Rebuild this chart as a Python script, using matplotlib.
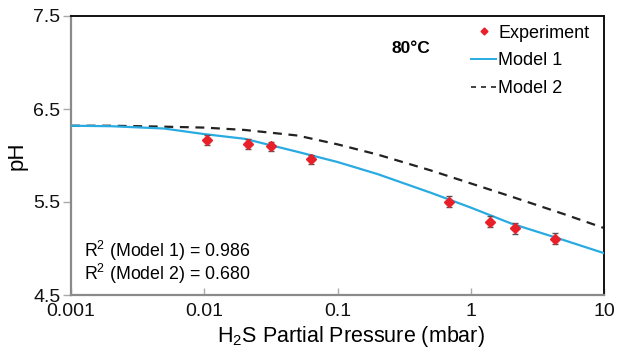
import matplotlib
matplotlib.use("Agg")
import matplotlib.pyplot as plt
from matplotlib.lines import Line2D

plt.rcParams['font.family'] = ['Liberation Sans', 'DejaVu Sans']
plt.rcParams['mathtext.fontset'] = 'custom'
plt.rcParams['mathtext.rm'] = 'Liberation Sans'
plt.rcParams['mathtext.default'] = 'regular'

# Experimental data
exp_p = [0.0105, 0.0213, 0.0319, 0.0638, 0.687, 1.39, 2.13, 4.29]
exp_ph = [6.167, 6.124, 6.099, 5.959, 5.503, 5.288, 5.217, 5.105]
exp_err = [0.05, 0.05, 0.05, 0.05, 0.06, 0.06, 0.06, 0.06]

# Model curves
model_p = [0.001, 0.002, 0.005, 0.01, 0.02, 0.05, 0.1, 0.2, 0.5, 1, 2, 5, 10]
model1_ph = [6.32, 6.315, 6.29, 6.23, 6.18, 6.04, 5.93, 5.80, 5.60, 5.44, 5.27, 5.09, 4.95]
model2_ph = [6.32, 6.32, 6.31, 6.30, 6.275, 6.215, 6.12, 6.01, 5.84, 5.70, 5.56, 5.37, 5.22]

xticks = [0.001, 0.01, 0.1, 1, 10]
xticklabels = ['0.001', '0.01', '0.1', '1', '10']
yticks = [4.5, 5.5, 6.5, 7.5]
yticklabels = ['4.5', '5.5', '6.5', '7.5']

fig = plt.figure(figsize=(6.18, 3.52), dpi=100)
ax = fig.add_axes([71/618, 1-295/352, (604-71)/618, (295-16)/352])

blue = '#29abe2'
red = '#e8202a'

ax.plot(model_p, model2_ph, color='#222222', lw=1.6, dashes=(4, 3), zorder=2)
ax.plot(model_p, model1_ph, color=blue, lw=1.6, zorder=3)
ax.errorbar(exp_p, exp_ph, yerr=exp_err, fmt='none', ecolor='#555555',
            elinewidth=1.0, capsize=2, capthick=1.0, zorder=4)
ax.plot(exp_p, exp_ph, linestyle='none', marker='D', markersize=5,
        color=red, markeredgecolor=red, zorder=5)

ax.set_xscale('log')
ax.set_xlim(0.001, 10)
ax.set_ylim(4.5, 7.5)
ax.set_xticks(xticks)
ax.set_xticklabels(xticklabels)
ax.set_yticks(yticks)
ax.set_yticklabels(yticklabels)
ax.minorticks_off()

for s in ['left', 'bottom']:
    ax.spines[s].set_color('#8a8a8a')
    ax.spines[s].set_linewidth(1.6)
for s in ['top', 'right']:
    ax.spines[s].set_color('#111111')
    ax.spines[s].set_linewidth(1.4)

ax.tick_params(axis='x', direction='in', length=5, width=1, color='#aaaaaa',
               labelsize=14, pad=6, labelcolor='#111111')
ax.tick_params(axis='y', direction='out', length=6, width=1, color='#aaaaaa',
               labelsize=14, pad=1.5, labelcolor='#111111')

ax.set_xlabel('H$_2$S Partial Pressure (mbar)', fontsize=15.5)
ax.xaxis.set_label_coords(0.525, -0.105)
ax.set_ylabel('pH', fontsize=16, labelpad=4)

handles = [
    Line2D([], [], linestyle='none', marker='D', markersize=3.5, color=red),
    Line2D([], [], color=blue, lw=1.4),
    Line2D([], [], color='#222222', lw=1.2, dashes=(3, 3)),
]
ax.legend(handles, ['Experiment', 'Model 1', 'Model 2'], loc='upper left',
          bbox_to_anchor=(0.73, 1.008), frameon=False, fontsize=13,
          handlelength=1.4, handletextpad=0.1, labelspacing=0.6,
          borderaxespad=0.2)

ax.text(0.602, 0.885, '80°C', transform=ax.transAxes, fontsize=12.5,
        fontweight='bold', ha='left', va='center')
ax.text(0.025, 0.158, 'R$^2$ (Model 1) = 0.986', transform=ax.transAxes,
        fontsize=12.8, ha='left', va='center')
ax.text(0.025, 0.077, 'R$^2$ (Model 2) = 0.680', transform=ax.transAxes,
        fontsize=12.8, ha='left', va='center')

fig.savefig('out.png', dpi=100)
